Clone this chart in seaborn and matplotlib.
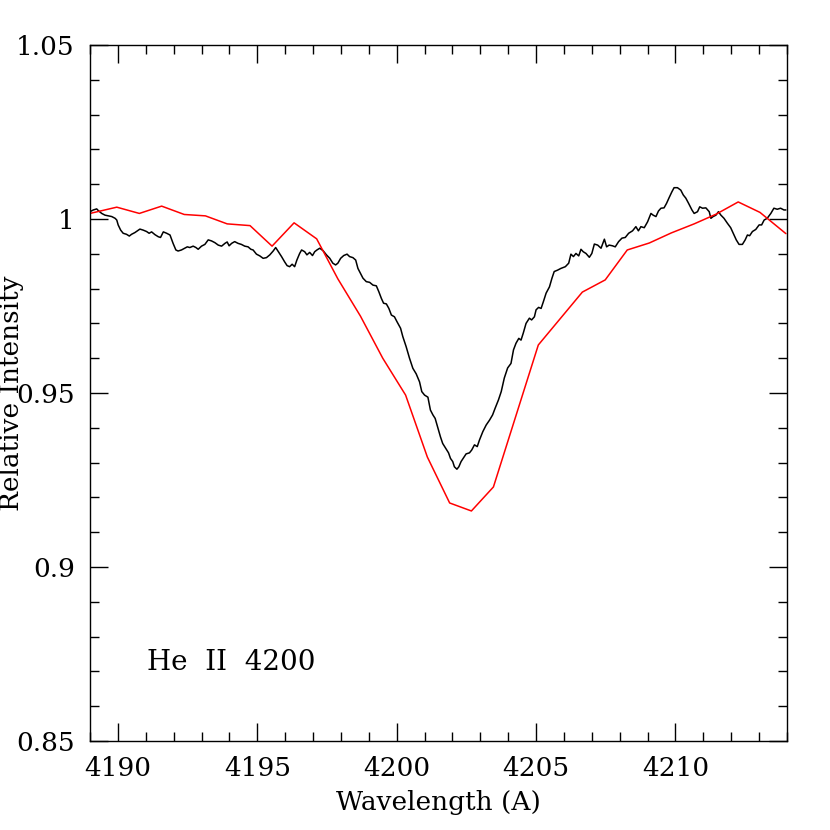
import matplotlib
matplotlib.use("Agg")
import matplotlib.pyplot as plt
import seaborn as sns
import pandas as pd
from matplotlib.ticker import MultipleLocator, FuncFormatter

# Observed spectrum (black)
obs_wave = [4189.00, 4189.12, 4189.24, 4189.30, 4189.42, 4189.54, 4189.66, 4189.78, 4189.90, 4189.96,
            4190.01, 4190.10, 4190.19, 4190.31, 4190.41, 4190.49, 4190.61, 4190.79, 4190.91, 4191.03,
            4191.12, 4191.21, 4191.33, 4191.45, 4191.53, 4191.63, 4191.75, 4191.87, 4191.98, 4192.08,
            4192.16, 4192.28, 4192.40, 4192.49, 4192.58, 4192.70, 4192.80, 4192.88, 4193.00, 4193.12,
            4193.24, 4193.36, 4193.48, 4193.60, 4193.72, 4193.84, 4193.92, 4193.99, 4194.08, 4194.19,
            4194.31, 4194.43, 4194.55, 4194.67, 4194.77, 4194.85, 4194.97, 4195.09, 4195.21, 4195.33,
            4195.45, 4195.57, 4195.66, 4195.74, 4195.87, 4195.98, 4196.07, 4196.16, 4196.25, 4196.34,
            4196.42, 4196.52, 4196.59, 4196.70, 4196.78, 4196.88, 4196.98, 4197.06, 4197.14, 4197.24,
            4197.36, 4197.48, 4197.60, 4197.71, 4197.81, 4197.89, 4197.99, 4198.10, 4198.22, 4198.31,
            4198.43, 4198.53, 4198.61, 4198.70, 4198.79, 4198.91, 4199.03, 4199.15, 4199.27, 4199.36,
            4199.45, 4199.53, 4199.63, 4199.72, 4199.81, 4199.92, 4200.01, 4200.14, 4200.22, 4200.34,
            4200.46, 4200.58, 4200.70, 4200.82, 4200.90, 4201.00, 4201.12, 4201.21, 4201.30, 4201.38,
            4201.48, 4201.57, 4201.65, 4201.78, 4201.86, 4201.93, 4202.01, 4202.07, 4202.16, 4202.23,
            4202.31, 4202.41, 4202.49, 4202.61, 4202.69, 4202.79, 4202.89, 4202.97, 4203.09, 4203.21,
            4203.33, 4203.44, 4203.53, 4203.65, 4203.75, 4203.86, 4203.98, 4204.10, 4204.19, 4204.28,
            4204.38, 4204.46, 4204.54, 4204.64, 4204.76, 4204.84, 4204.94, 4205.00, 4205.09, 4205.18,
            4205.26, 4205.36, 4205.48, 4205.57, 4205.65, 4205.77, 4205.89, 4206.05, 4206.17, 4206.25,
            4206.34, 4206.43, 4206.53, 4206.61, 4206.69, 4206.79, 4206.91, 4207.00, 4207.09, 4207.21,
            4207.33, 4207.45, 4207.53, 4207.62, 4207.74, 4207.84, 4207.96, 4208.08, 4208.20, 4208.32,
            4208.46, 4208.58, 4208.67, 4208.76, 4208.88, 4209.00, 4209.12, 4209.20, 4209.30, 4209.39,
            4209.48, 4209.59, 4209.68, 4209.77, 4209.87, 4209.95, 4210.07, 4210.19, 4210.28, 4210.37,
            4210.47, 4210.59, 4210.67, 4210.79, 4210.87, 4210.97, 4211.09, 4211.21, 4211.27, 4211.35,
            4211.45, 4211.54, 4211.63, 4211.74, 4211.86, 4211.98, 4212.10, 4212.18, 4212.28, 4212.40,
            4212.50, 4212.58, 4212.66, 4212.76, 4212.88, 4213.00, 4213.09, 4213.18, 4213.29, 4213.42,
            4213.53, 4213.65, 4213.77, 4213.89, 4213.96]
obs_flux = [1.0021, 1.0026, 1.0029, 1.0024, 1.0016, 1.0011, 1.0009, 1.0007, 1.0002, 0.9997,
            0.9983, 0.9968, 0.9959, 0.9956, 0.9951, 0.9956, 0.9961, 0.9971, 0.9968, 0.9964,
            0.9959, 0.9963, 0.9955, 0.9949, 0.9947, 0.9963, 0.9959, 0.9954, 0.9930, 0.9911,
            0.9908, 0.9911, 0.9916, 0.9920, 0.9918, 0.9922, 0.9918, 0.9913, 0.9922, 0.9927,
            0.9940, 0.9937, 0.9932, 0.9925, 0.9922, 0.9930, 0.9934, 0.9923, 0.9930, 0.9935,
            0.9930, 0.9927, 0.9922, 0.9920, 0.9913, 0.9911, 0.9899, 0.9894, 0.9887, 0.9889,
            0.9897, 0.9908, 0.9918, 0.9908, 0.9892, 0.9877, 0.9866, 0.9863, 0.9870, 0.9863,
            0.9882, 0.9901, 0.9911, 0.9906, 0.9897, 0.9904, 0.9895, 0.9906, 0.9911, 0.9916,
            0.9909, 0.9897, 0.9887, 0.9873, 0.9868, 0.9873, 0.9887, 0.9895, 0.9899, 0.9892,
            0.9889, 0.9882, 0.9858, 0.9844, 0.9830, 0.9820, 0.9818, 0.9810, 0.9808, 0.9791,
            0.9772, 0.9758, 0.9756, 0.9743, 0.9724, 0.9719, 0.9705, 0.9686, 0.9662, 0.9633,
            0.9600, 0.9571, 0.9555, 0.9532, 0.9504, 0.9494, 0.9488, 0.9451, 0.9437, 0.9427,
            0.9399, 0.9374, 0.9355, 0.9338, 0.9328, 0.9312, 0.9303, 0.9288, 0.9281, 0.9288,
            0.9303, 0.9315, 0.9325, 0.9328, 0.9336, 0.9351, 0.9346, 0.9365, 0.9389, 0.9408,
            0.9422, 0.9437, 0.9456, 0.9480, 0.9504, 0.9543, 0.9572, 0.9585, 0.9624, 0.9643,
            0.9657, 0.9652, 0.9672, 0.9700, 0.9715, 0.9710, 0.9719, 0.9739, 0.9746, 0.9743,
            0.9762, 0.9787, 0.9805, 0.9830, 0.9849, 0.9853, 0.9858, 0.9863, 0.9873, 0.9899,
            0.9892, 0.9901, 0.9894, 0.9913, 0.9906, 0.9901, 0.9890, 0.9901, 0.9928, 0.9925,
            0.9916, 0.9942, 0.9920, 0.9925, 0.9923, 0.9920, 0.9935, 0.9945, 0.9947, 0.9959,
            0.9966, 0.9978, 0.9966, 0.9978, 0.9975, 0.9992, 1.0016, 1.0011, 1.0007, 1.0023,
            1.0031, 1.0032, 1.0045, 1.0061, 1.0078, 1.0090, 1.0090, 1.0083, 1.0069, 1.0060,
            1.0045, 1.0026, 1.0016, 1.0021, 1.0035, 1.0031, 1.0032, 1.0021, 1.0002, 1.0007,
            1.0011, 1.0021, 1.0011, 1.0002, 0.9988, 0.9975, 0.9954, 0.9940, 0.9927, 0.9927,
            0.9940, 0.9954, 0.9952, 0.9964, 0.9970, 0.9983, 0.9983, 0.9997, 1.0002, 1.0016,
            1.0031, 1.0028, 1.0031, 1.0026, 1.0026]

# Model spectrum (red)
mod_wave = [4189.00, 4189.96, 4190.77, 4191.57, 4192.38, 4193.14, 4193.92, 4194.74, 4195.53, 4196.32,
            4197.13, 4197.89, 4198.70, 4199.50, 4200.32, 4201.10, 4201.90, 4202.68, 4203.47, 4205.08,
            4206.66, 4207.48, 4208.27, 4209.06, 4209.85, 4210.67, 4211.46, 4212.25, 4213.03, 4213.96]
mod_flux = [1.0016, 1.0034, 1.0016, 1.0037, 1.0013, 1.0009, 0.9986, 0.9981, 0.9922, 0.9989,
            0.9943, 0.9828, 0.9721, 0.9600, 0.9494, 0.9316, 0.9184, 0.9161, 0.9230, 0.9638,
            0.9790, 0.9825, 0.9911, 0.9931, 0.9960, 0.9986, 1.0014, 1.0049, 1.0019, 0.9958]

x_ticks = [4190, 4195, 4200, 4205, 4210]
y_ticks = [0.85, 0.9, 0.95, 1.0, 1.05]
x_label = "Wavelength (A)"
y_label = "Relative Intensity"
annotation = "He  II  4200"

sns.set_style("ticks")
plt.rcParams['font.family'] = ['DejaVu Serif', 'Liberation Serif']
for k in ["text.color", "axes.labelcolor", "xtick.color", "ytick.color", "axes.edgecolor"]:
    plt.rcParams[k] = "black"

fig = plt.figure(figsize=(8.3, 8.3), dpi=100)
ax = fig.add_axes([90/830, 89/830, 697/830, 696/830])

obs = pd.DataFrame({"wave": obs_wave, "flux": obs_flux})
mod = pd.DataFrame({"wave": mod_wave, "flux": mod_flux})
sns.lineplot(data=obs, x="wave", y="flux", sort=False, estimator=None, color="black", linewidth=1.1, ax=ax)
sns.lineplot(data=mod, x="wave", y="flux", sort=False, estimator=None, color="red", linewidth=1.1, ax=ax)

ax.set_xlim(4189, 4214)
ax.set_ylim(0.85, 1.05)
ax.set_xticks(x_ticks)
ax.set_yticks(y_ticks)
ax.xaxis.set_minor_locator(MultipleLocator(1))
ax.yaxis.set_minor_locator(MultipleLocator(0.01))
ax.yaxis.set_major_formatter(FuncFormatter(lambda v, p: "%g" % round(v, 3)))
ax.tick_params(which="both", direction="in", top=True, right=True, bottom=True, left=True,
               width=1.0, color="black")
ax.tick_params(which="major", length=13, pad=11, labelsize=19)
ax.tick_params(which="minor", length=6.5)
for s in ax.spines.values():
    s.set_color("black")
    s.set_linewidth(1.0)

ax.set_xlabel(x_label, fontsize=19)
ax.set_ylabel(y_label, fontsize=19)
ax.xaxis.label.set_verticalalignment("center")
ax.yaxis.label.set_verticalalignment("center")
ax.xaxis.set_label_coords(0.5, -(802 - 741) / 696)
ax.yaxis.set_label_coords((12 - 90) / 697, 0.5)
ax.text(4191.04, 0.8727, annotation, fontsize=20, va="center", ha="left")

fig.savefig("out.png", dpi=100)
